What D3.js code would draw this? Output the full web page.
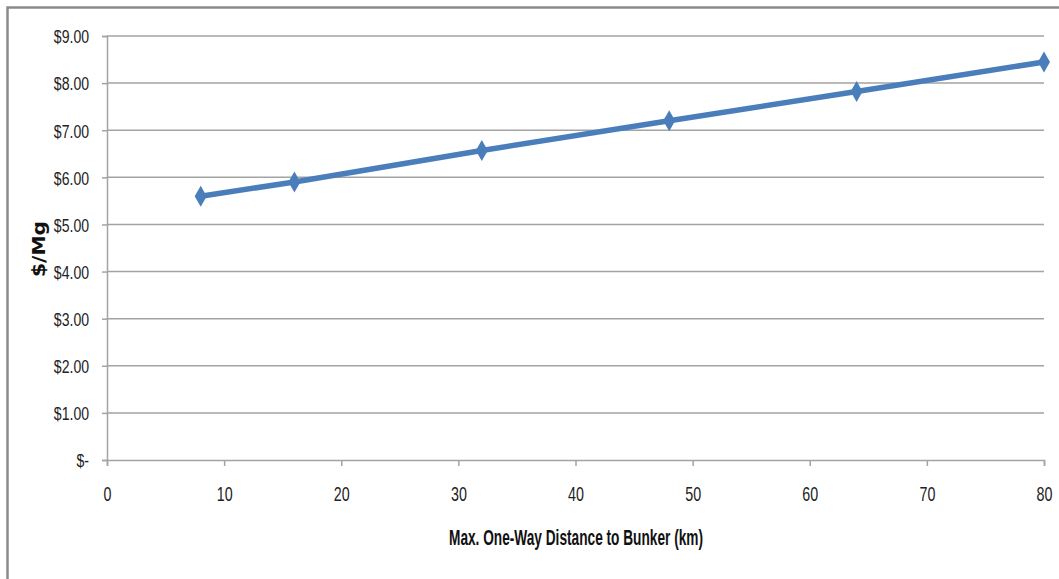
<!DOCTYPE html>
<html><head><meta charset="utf-8">
<script src="https://cdn.jsdelivr.net/npm/d3@7"></script>
<style>
body{margin:0;background:#fff;}
svg{display:block;}
</style></head>
<body><svg id="c" width="1059" height="579"></svg>
<script>
const distances = [8, 16, 32, 48, 64, 80];
const costs = [5.60, 5.90, 6.57, 7.20, 7.82, 8.45];
const xTicks = [0, 10, 20, 30, 40, 50, 60, 70, 80];
const yTicks = [0, 1, 2, 3, 4, 5, 6, 7, 8, 9];
const xTitle = "Max. One-Way Distance to Bunker (km)";
const yTitle = "$/Mg";

const svg = d3.select("#c");
const font = "'Liberation Sans',Arial,sans-serif";
const plotLeft = 107, plotRight = 1044, plotTop = 36, plotBottom = 460;

function squeeze(sel, factor) {
  sel.each(function () {
    const w = this.getComputedTextLength();
    d3.select(this).attr("textLength", w * factor).attr("lengthAdjust", "spacingAndGlyphs");
  });
}

// outer chart border
svg.append("path").attr("d", "M7.5,579V7.5H1059").attr("fill","none")
  .attr("stroke","#8a8a8a").attr("stroke-width",2.5);

const x = d3.scaleLinear().domain([0,80]).range([plotLeft,plotRight]);
const y = d3.scaleLinear().domain([0,9]).range([plotBottom,plotTop]);

// gridlines
svg.append("g").selectAll("line").data(yTicks.filter(d=>d>0)).join("line")
  .attr("x1",plotLeft).attr("x2",plotRight).attr("y1",d=>y(d)).attr("y2",d=>y(d))
  .attr("stroke","#a3a3a3").attr("stroke-width",1.5);

const fmt = d => d === 0 ? "$-" : "$" + d3.format(".2f")(d);

const yAxis = svg.append("g").attr("transform",`translate(${plotLeft},0)`)
  .call(d3.axisLeft(y).tickValues(yTicks).tickFormat(fmt).tickSize(5).tickPadding(13));
yAxis.select(".domain").attr("stroke","#a3a3a3").attr("stroke-width",1.5);
yAxis.selectAll(".tick line").attr("stroke","#a3a3a3").attr("stroke-width",1.5);
yAxis.selectAll(".tick text").attr("font-family",font).attr("font-size",18).attr("fill","#222")
  .attr("dy","0.38em");
squeeze(yAxis.selectAll(".tick text"), 0.78);

const xAxis = svg.append("g").attr("transform",`translate(0,${plotBottom})`)
  .call(d3.axisBottom(x).tickValues(xTicks).tickFormat(d3.format("d")).tickSize(6).tickPadding(12));
xAxis.select(".domain").attr("stroke","#a3a3a3").attr("stroke-width",1.5);
xAxis.selectAll(".tick line").attr("stroke","#a3a3a3").attr("stroke-width",1.5);
xAxis.selectAll(".tick text").attr("font-family",font).attr("font-size",21).attr("fill","#222")
  .attr("y",null).attr("dy",null).attr("y",41);
squeeze(xAxis.selectAll(".tick text"), 0.68);

// titles
svg.append("text").attr("x",576).attr("y",545).attr("text-anchor","middle")
  .attr("font-family",font).attr("font-weight","bold").attr("font-size",22).attr("fill","#111")
  .attr("textLength",254).attr("lengthAdjust","spacingAndGlyphs")
  .text(xTitle);
svg.append("text").attr("transform","translate(45,249) rotate(-90)").attr("text-anchor","middle")
  .attr("font-family","'DejaVu Sans',sans-serif").attr("font-weight","bold").attr("font-size",17).attr("fill","#111")
  .attr("textLength",56).attr("lengthAdjust","spacingAndGlyphs")
  .text(yTitle);

// line
const data = distances.map((d,i)=>({x:d,y:costs[i]}));
svg.append("path").datum(data)
  .attr("d", d3.line().x(d=>x(d.x)).y(d=>y(d.y)))
  .attr("fill","none").attr("stroke","#4a7ebb").attr("stroke-width",5.5).attr("stroke-linejoin","round");

// diamond markers
svg.append("g").selectAll("path").data(data).join("path")
  .attr("transform",d=>`translate(${x(d.x)},${y(d.y)})`)
  .attr("d","M0,-10.5L6,0L0,10.5L-6,0Z")
  .attr("fill","#4a7ebb");
</script></body></html>
